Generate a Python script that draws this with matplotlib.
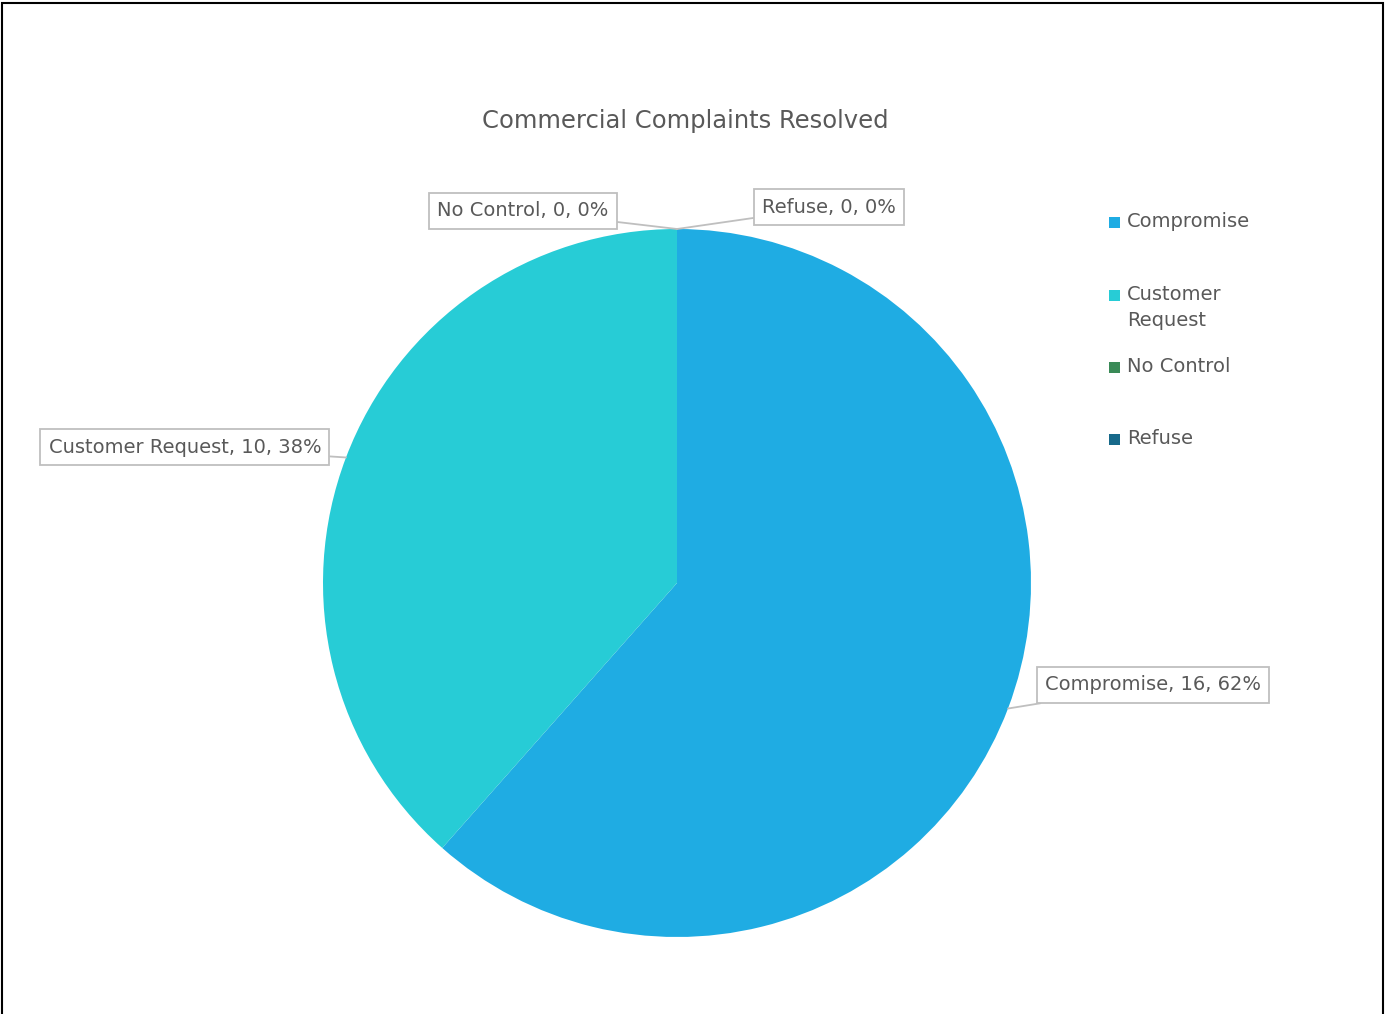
import matplotlib
matplotlib.use("Agg")
import matplotlib.pyplot as plt
from matplotlib.patches import Rectangle
import numpy as np

plt.rcParams['font.family'] = ['DejaVu Sans']

categories = ["Compromise", "Customer Request", "No Control", "Refuse"]
values = [16, 10, 0, 0]
legend_labels = ["Compromise", "Customer\nRequest", "No Control", "Refuse"]
colors = ["#1FACE3", "#27CCD6", "#3A8A57", "#17698A"]
title = "Commercial Complaints Resolved"

W, H = 1385, 1014
fig = plt.figure(figsize=(W / 100, H / 100), dpi=100)
fig.patch.set_facecolor("white")

cx, cy, r = 677, 583, 354
ax = fig.add_axes([(cx - r) / W, (H - cy - r) / H, 2 * r / W, 2 * r / H])
wedges, _ = ax.pie(values, colors=colors, startangle=90, counterclock=False,
                   radius=1, wedgeprops=dict(linewidth=0))
ax.set_xlim(-1, 1)
ax.set_ylim(-1, 1)
ax.set_aspect('equal')
ax.axis('off')

total = sum(values)
# label text positions (data coords, radius = 1)
text_pos = {
    "Compromise": (1.345, -0.288),
    "Customer Request": (-1.390, 0.384),
    "No Control": (-0.435, 1.051),
    "Refuse": (0.429, 1.062),
}
for w, cat, v in zip(wedges, categories, values):
    mid = np.deg2rad((w.theta1 + w.theta2) / 2)
    px, py = np.cos(mid), np.sin(mid)
    pct = round(100 * v / total)
    ax.annotate(f"{cat}, {v}, {pct}%", xy=(px, py), xytext=text_pos[cat],
                ha='center', va='center', fontsize=14, color="#595959",
                bbox=dict(boxstyle='square,pad=0.42', fc='white', ec='#BFBFBF', lw=1.3),
                arrowprops=dict(arrowstyle='-', color='#BFBFBF', lw=1.3,
                                shrinkA=0, shrinkB=0),
                annotation_clip=False)

fig.text(685 / W, 1 - 121 / H, title, ha='center', va='center',
         fontsize=17.5, color="#595959")

# legend
ys = [222, 295, 367, 439]
for lab, col, y in zip(legend_labels, colors, ys):
    fig.patches.append(Rectangle((1109 / W, 1 - (y + 6) / H), 11 / W, 11 / H,
                                 transform=fig.transFigure, fc=col, ec='none'))
    fig.text(1127 / W, 1 - (y - 10) / H, lab, ha='left', va='top',
             fontsize=14, color="#595959", linespacing=1.48)

fig.patches.append(Rectangle((1.5 / W, -0.01), (1383 - 1.5) / W, 1 - 3 / H + 0.01,
                             transform=fig.transFigure, fill=False, ec='black', lw=1.5))

fig.savefig("out.png", dpi=100, facecolor="white")
